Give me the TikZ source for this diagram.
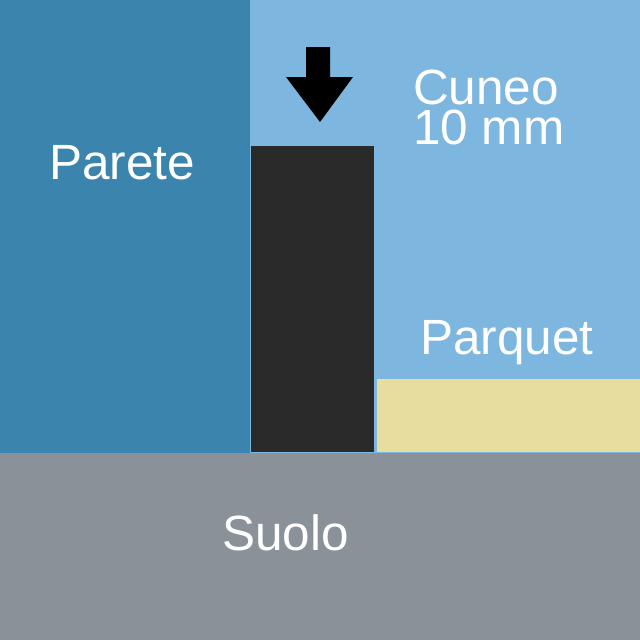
\documentclass[tikz,border=0pt]{standalone}
\usepackage{fontspec}
\setmainfont{Liberation Sans}
\definecolor{wallblue}{HTML}{3A84AD}
\definecolor{skyblue}{HTML}{7DB6DE}
\definecolor{blockdark}{HTML}{2A2A2A}
\definecolor{parquetcol}{HTML}{E6DD9E}
\definecolor{floorgray}{HTML}{8A9199}
\begin{document}
\begin{tikzpicture}[x=1pt,y=-1pt,
  lbl/.style={text=white,anchor=base west,inner sep=0pt,font=\fontsize{49.5}{40}\selectfont,align=left}]
\useasboundingbox (0,0) rectangle (640,640);
\fill[skyblue] (0,0) rectangle (640,453);
\fill[wallblue] (0,0) rectangle (250,453);
\fill[floorgray] (0,453) rectangle (640,640);
\fill[blockdark] (251,146) rectangle (374,452);
\fill[parquetcol] (377,379) rectangle (640,452);
\fill[black] (306,47) -- (330,47) -- (330,77) -- (353,77) -- (320,122) -- (286,77) -- (306,77) -- cycle;
\node[lbl] (parete) at (49,179) {Parete};
\node[lbl] (cuneo) at (413,144) {Cuneo\\10 mm};
\node[lbl] (parquet) at (420,354) {Parquet};
\node[lbl] (suolo) at (222,550) {Suolo};
\end{tikzpicture}
\end{document}
